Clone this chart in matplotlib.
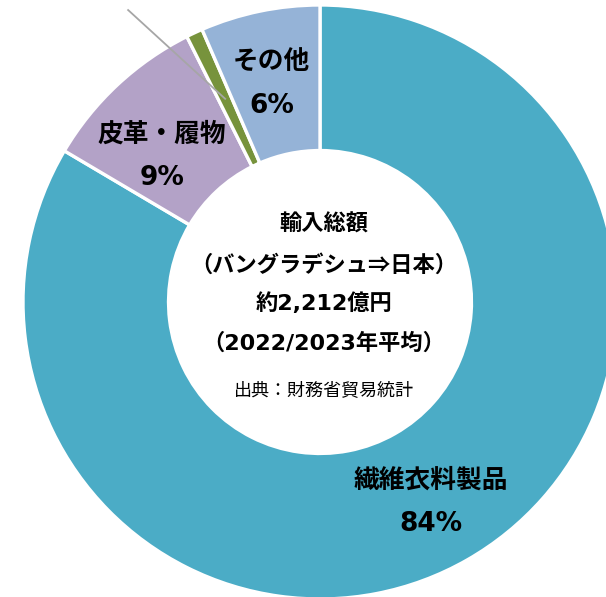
import numpy as np
import matplotlib.pyplot as plt

plt.rcParams['font.family'] = ['Noto Sans CJK JP', 'DejaVu Sans']
mixed = ['DejaVu Sans', 'Noto Sans CJK JP']   # 数字は幅広の欧文フォントで
cjk = ['Noto Sans CJK JP', 'DejaVu Sans']

# 輸入品目の構成（%）
names = ["繊維衣料製品", "皮革・履物", "", "その他"]
shares = [83.5, 9.1, 0.9, 6.5]
pct_labels = ["84%", "9%", "", "6%"]
colors = ["#4BACC6", "#B3A2C7", "#77933C", "#95B3D7"]

center_lines = ["輸入総額", "（バングラデシュ⇒日本）", "約2,212億円", "（2022/2023年平均）"]
center_fonts = [cjk, cjk, mixed, mixed]
source = "出典：財務省貿易統計"

# ラベル位置の微調整（データ単位）
nudge = [(0.0, -0.017), (-0.017, -0.06), (0.0, 0.0), (-0.01, -0.007)]

fig = plt.figure(figsize=(6.06, 5.97), dpi=100)
ax = fig.add_axes([0, 0, 1, 1])

wedges, _ = ax.pie(shares, colors=colors, startangle=90, counterclock=False,
                   radius=1, wedgeprops=dict(width=0.49, edgecolor="white", linewidth=2.4))

for w, name, pct, (dx, dy) in zip(wedges, names, pct_labels, nudge):
    mid = np.deg2rad((w.theta1 + w.theta2) / 2)
    x, y = 0.755 * np.cos(mid), 0.755 * np.sin(mid)
    if name:
        ax.text(x + dx, y + dy + 0.074, name, ha="center", va="center",
                fontsize=18.5, fontweight="bold")
        ax.text(x + dx, y + dy - 0.074, pct, ha="center", va="center",
                fontsize=19, fontweight="bold", family=mixed)
    else:
        # 小さいスライスの引き出し線（ラベルは枠外）
        ax.plot([x, -0.646], [y, 0.983], color="#A6A6A6", lw=1.3)

# 中央テキスト
ys = [0.263, 0.122, -0.003, -0.138]
for t, y, fam in zip(center_lines, ys, center_fonts):
    ax.text(0.012, y, t, ha="center", va="center", fontsize=16,
            fontweight="bold", family=fam)
ax.text(0.012, -0.297, source, ha="center", va="center", fontsize=13)

ax.set_xlim(-320 / 297, 286 / 297)
ax.set_ylim(-295 / 297, 302 / 297)
ax.set_aspect("equal")
ax.axis("off")

fig.savefig("out.png", dpi=100)
